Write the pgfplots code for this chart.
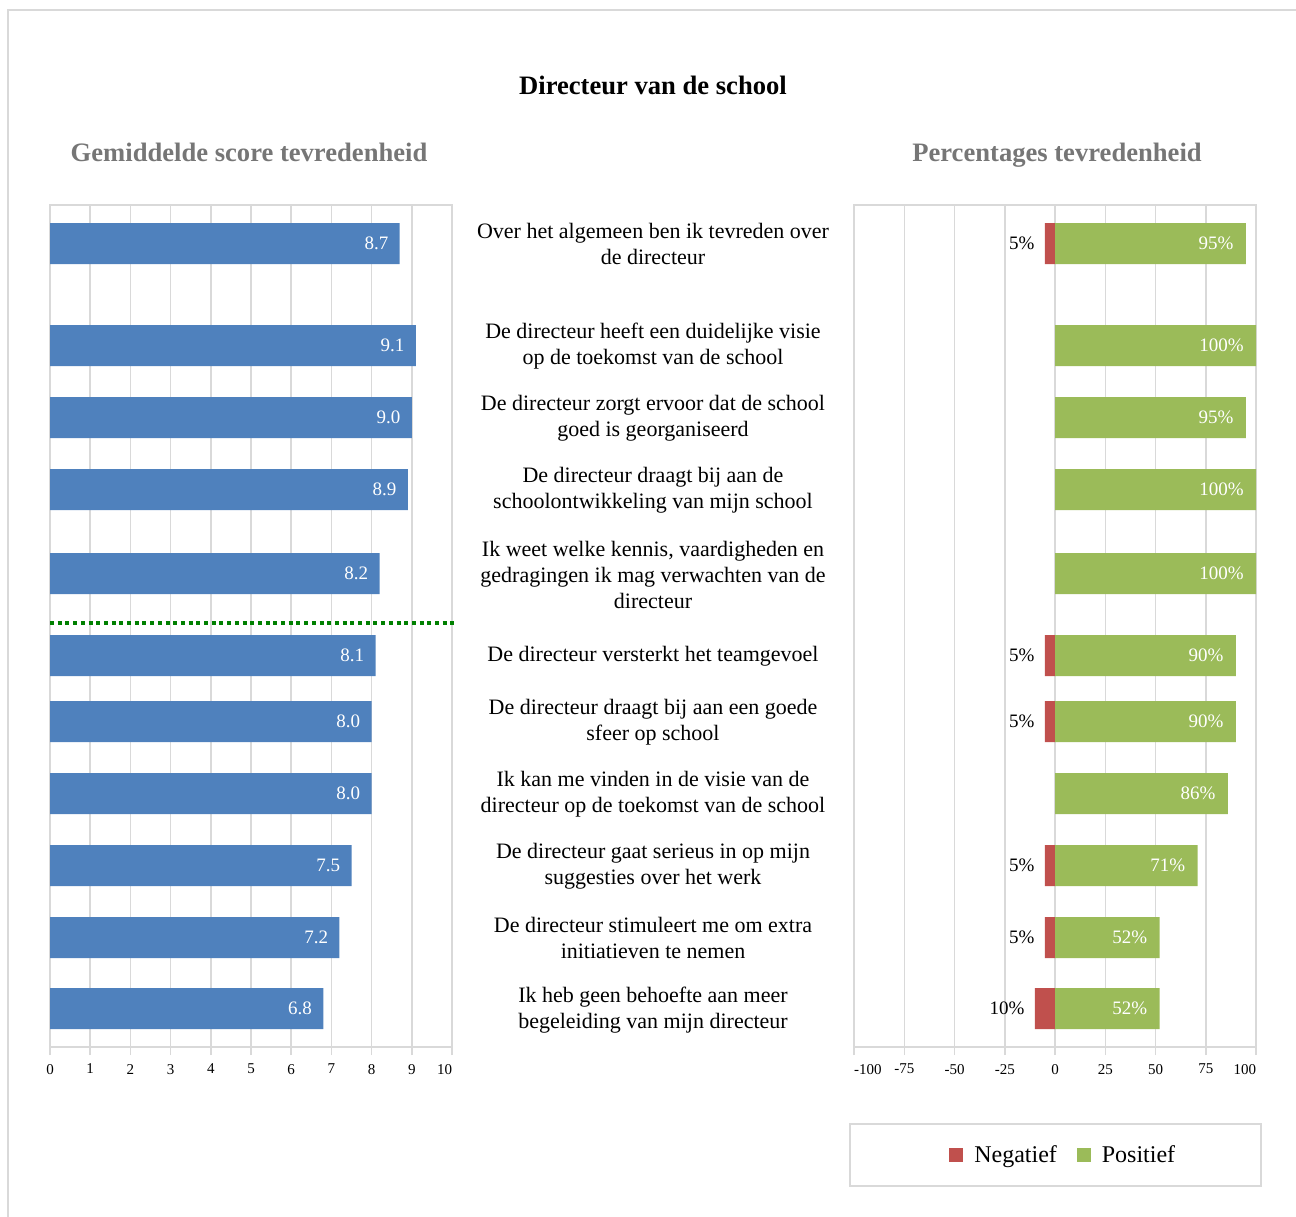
\documentclass[border=0pt]{standalone}
\usepackage{pgfplots}
\pgfplotsset{compat=1.18}
\usepackage{fontspec}
\setmainfont{Liberation Serif}
\definecolor{barblue}{HTML}{4F81BD}
\definecolor{negred}{HTML}{C0504D}
\definecolor{posgreen}{HTML}{9BBB59}
\definecolor{gridgray}{HTML}{D9D9D9}
\definecolor{subgray}{HTML}{767676}
\definecolor{dotgreen}{HTML}{008000}
\pgfplotsset{
  myaxis/.style={
    scale only axis, width=201pt, height=421pt,
    anchor=south west,
    ymin=205, ymax=1047, y dir=reverse,
    xbar, bar width=41, bar shift=0pt,
    ytick=\empty,
    xmajorgrids, grid style={color=gridgray, line width=0.75pt},
    axis line style={gridgray, line width=0.75pt},
    xtick pos=bottom, tick align=outside, major tick length=4pt,
    tick style={gridgray, line width=0.75pt},
    /pgf/number format/assume math mode=true,
    xticklabel style={font=\fontsize{7.5}{9}\selectfont, text=black, yshift=-1pt},
    point meta=explicit symbolic,
  }
}
\begin{document}
\begin{tikzpicture}
\begin{scope}[x=0.5pt,y=-0.5pt]
\useasboundingbox (0,0) rectangle (1296,1216);
\draw[gridgray, line width=1pt] (8,1240) -- (8,10) -- (1320,10);
\node[anchor=base, font=\bfseries\fontsize{13.3}{15}\selectfont] at (653,94) {Directeur van de school};
\node[anchor=base, font=\bfseries\fontsize{13.3}{15}\selectfont, text=subgray] at (249,161) {Gemiddelde score tevredenheid};
\node[anchor=base, font=\bfseries\fontsize{13.3}{15}\selectfont, text=subgray] at (1057,161) {Percentages tevredenheid};
\begin{scope}[every node/.style={align=center, font=\fontsize{11}{13}\selectfont}]
\node at (653,244) {Over het algemeen ben ik tevreden over\\de directeur};
\node at (653,346) {De directeur heeft een duidelijke visie\\op de toekomst van de school};
\node at (653,418) {De directeur zorgt ervoor dat de school\\goed is georganiseerd};
\node at (653,490) {De directeur draagt bij aan de\\schoolontwikkeling van mijn school};
\node at (653,575) {Ik weet welke kennis, vaardigheden en\\gedragingen ik mag verwachten van de\\directeur};
\node at (653,656) {De directeur versterkt het teamgevoel};
\node at (653,722) {De directeur draagt bij aan een goede\\sfeer op school};
\node at (653,794) {Ik kan me vinden in de visie van de\\directeur op de toekomst van de school};
\node at (653,866) {De directeur gaat serieus in op mijn\\suggesties over het werk};
\node at (653,938) {De directeur stimuleert me om extra\\initiatieven te nemen};
\node at (653,1010) {Ik heb geen behoefte aan meer\\begeleiding van mijn directeur};
\end{scope}
\draw[gridgray, line width=1pt] (850,1124) rectangle (1261,1186);
\end{scope}

\begin{axis}[myaxis, at={(25pt,-523.5pt)},
  xmin=0, xmax=10, xtick={0,1,...,10},
  xticklabels={0,1,2,3,4,5,6,7,8,9,\llap{10}}]
\addplot[fill=barblue, draw=none, nodes near coords,
  every node near coord/.append style={anchor=east, inner sep=0pt, xshift=-5.5pt, text=white, font=\fontsize{9.5}{11}\selectfont}]
  coordinates {
  (8.7,243.5) [8.7]
  (9.1,345.5) [9.1]
  (9.0,417.5) [9.0]
  (8.9,489.5) [8.9]
  (8.2,573.5) [8.2]
  (8.1,655.5) [8.1]
  (8.0,721.5) [8.0]
  (8.0,793.5) [8.0]
  (7.5,865.5) [7.5]
  (7.2,937.5) [7.2]
  (6.8,1008.5) [6.8]
  };
\end{axis}

\begin{axis}[myaxis, at={(427pt,-523.5pt)},
  xmin=-100, xmax=100, xtick={-100,-75,...,100},
  xticklabels={\rlap{-100},-75,-50,-25,0,25,50,75,\llap{100}},
  area legend,
  legend image code/.code={\fill[#1] (0pt,-3.5pt) rectangle (7pt,3.5pt);},
  legend columns=2,
  legend style={draw=none, at={(0.523,-0.1283)}, anchor=center, font=\fontsize{12}{14}\selectfont,
    /tikz/every odd column/.append style={column sep=3.5pt},
    /tikz/every even column/.append style={column sep=8pt}},
  ]
\addplot[fill=negred, draw=none, nodes near coords,
  every node near coord/.append style={anchor=east, inner sep=0pt, xshift=-5pt, text=black, font=\fontsize{9.5}{11}\selectfont}]
  coordinates {
  (-5,243.5) [5\%]
  (-5,655.5) [5\%]
  (-5,721.5) [5\%]
  (-5,865.5) [5\%]
  (-5,937.5) [5\%]
  (-10,1008.5) [10\%]
  };
\addlegendentry{Negatief}
\addplot[fill=posgreen, draw=none, nodes near coords,
  every node near coord/.append style={anchor=east, inner sep=0pt, xshift=-6pt, text=white, font=\fontsize{9.5}{11}\selectfont}]
  coordinates {
  (95,243.5) [95\%]
  (100,345.5) [100\%]
  (95,417.5) [95\%]
  (100,489.5) [100\%]
  (100,573.5) [100\%]
  (90,655.5) [90\%]
  (90,721.5) [90\%]
  (86,793.5) [86\%]
  (71,865.5) [71\%]
  (52,937.5) [52\%]
  (52,1008.5) [52\%]
  };
\addlegendentry{Positief}
\end{axis}

\begin{scope}[x=0.5pt,y=-0.5pt]
\draw[dotgreen, line width=2pt, dash pattern=on 2pt off 1.85pt] (50,623) -- (455,623);
\end{scope}
\end{tikzpicture}
\end{document}
